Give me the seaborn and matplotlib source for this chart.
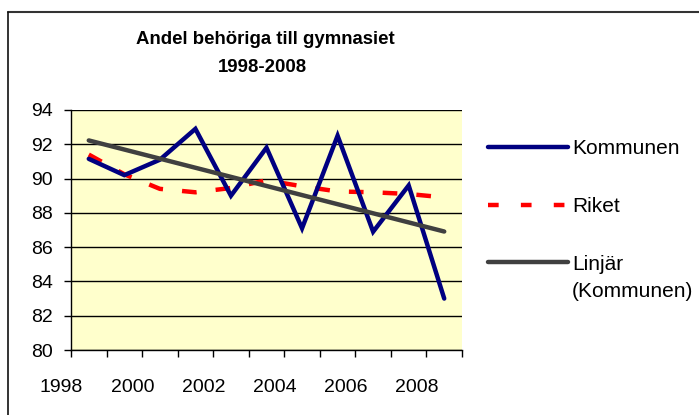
import numpy as np
import pandas as pd
import matplotlib
matplotlib.use("Agg")
import matplotlib.pyplot as plt
from matplotlib.lines import Line2D
import seaborn as sns

# data
years = [1998, 1999, 2000, 2001, 2002, 2003, 2004, 2005, 2006, 2007, 2008]
kommunen = [91.15, 90.2, 91.1, 92.9, 89.0, 91.8, 87.1, 92.5, 86.9, 89.6, 83.0]
riket = [91.4, 90.25, 89.4, 89.2, 89.45, 89.9, 89.55, 89.25, 89.2, 89.1, 88.9]
year_labels = ["1998", "2000", "2002", "2004", "2006", "2008"]
y_ticks = [80, 82, 84, 86, 88, 90, 92, 94]

sns.set_theme(style="white")
plt.rcParams["font.family"] = ["Liberation Sans", "DejaVu Sans"]
plt.rcParams["text.color"] = "black"

W, H = 699, 415
fig = plt.figure(figsize=(W / 100, H / 100), dpi=100)
fig.patch.set_facecolor("white")

# plot area in pixels: left 71, right 462, top 110, bottom 350
ax = fig.add_axes([71 / W, (H - 350) / H, (462 - 71) / W, (350 - 110) / H])
ax.set_facecolor("#FFFFCC")

df = pd.DataFrame({"pos": np.arange(len(years)), "Kommunen": kommunen, "Riket": riket})

# Excel-style linear trendline of Kommunen
coef = np.polyfit(df["pos"], df["Kommunen"], 1)
df["trend"] = np.polyval(coef, df["pos"])

sns.lineplot(data=df, x="pos", y="Kommunen", ax=ax, color="#000080", lw=3.2,
             solid_capstyle="round", solid_joinstyle="miter", zorder=3)
sns.lineplot(data=df, x="pos", y="Riket", ax=ax, color="#FF0000", lw=3.2, zorder=2)
ax.lines[-1].set_dashes([3.3, 4.3])
sns.lineplot(data=df, x="pos", y="trend", ax=ax, color="#404040", lw=3.2,
             solid_capstyle="round", zorder=4)

ax.set_xlim(-0.5, len(years) - 0.5)
ax.set_ylim(80, 94)
ax.set_xlabel("")
ax.set_ylabel("")

ax.set_yticks(y_ticks)
ax.set_yticklabels([str(v) for v in y_ticks])
ax.yaxis.grid(True, color="black", lw=1.0)
ax.set_axisbelow(True)

# tick marks between categories, labels set separately (Excel offset)
ax.set_xticks(np.arange(-0.5, len(years), 1.0))
ax.set_xticklabels([])
ax.tick_params(axis="x", direction="out", length=5, width=1, color="black", bottom=True)
ax.tick_params(axis="y", direction="out", length=5, width=1, color="black", left=True,
               labelsize=14, pad=8, labelcolor="black")
for i, lab in enumerate(year_labels):
    ax.text(2 * i - 0.77, -0.155, lab, transform=ax.get_xaxis_transform(),
            ha="center", va="center", fontsize=14, color="black", clip_on=False)

for side in ["top", "right"]:
    ax.spines[side].set_visible(False)
ax.spines["left"].set_color("black")
ax.spines["bottom"].set_color("black")
ax.spines["left"].set_linewidth(1.0)
ax.spines["bottom"].set_linewidth(1.0)

fig.text(265 / W, 1 - 39 / H, "Andel behöriga till gymnasiet", ha="center", va="center",
         fontsize=13.4, fontweight="bold", color="black")
fig.text(262 / W, 1 - 68 / H, "1998-2008", ha="center", va="center",
         fontsize=13.4, fontweight="bold", color="black")

handles = [
    Line2D([], [], color="#000080", lw=3.2, solid_capstyle="round"),
    Line2D([], [], color="#FF0000", lw=3.2, dashes=[2.4, 5.0]),
    Line2D([], [], color="#404040", lw=3.2, solid_capstyle="round"),
]
leg = ax.legend(handles, ["Kommunen", "Riket", "Linjär"], loc="upper left",
                bbox_to_anchor=(478 / W, 1 - 129 / H), bbox_transform=fig.transFigure,
                frameon=False, fontsize=15, handlelength=3.8, handletextpad=0.2,
                labelspacing=1.85, borderpad=0, labelcolor="black")

# second line of the trendline label, aligned under "Linjär"
fig.canvas.draw()
bb = leg.get_texts()[2].get_window_extent()
fig.text(bb.x0 / W, 1 - 291 / H, "(Kommunen)", ha="left", va="center",
         fontsize=15, color="black")

# chart frame (top and left edges visible)
fig.add_artist(Line2D([8 / W, 1], [1 - 12 / H, 1 - 12 / H], color="#333333", lw=1.5,
                      transform=fig.transFigure))
fig.add_artist(Line2D([8 / W, 8 / W], [0, 1 - 12 / H], color="#111111", lw=1.2,
                      transform=fig.transFigure))

fig.savefig("out.png", dpi=100)
